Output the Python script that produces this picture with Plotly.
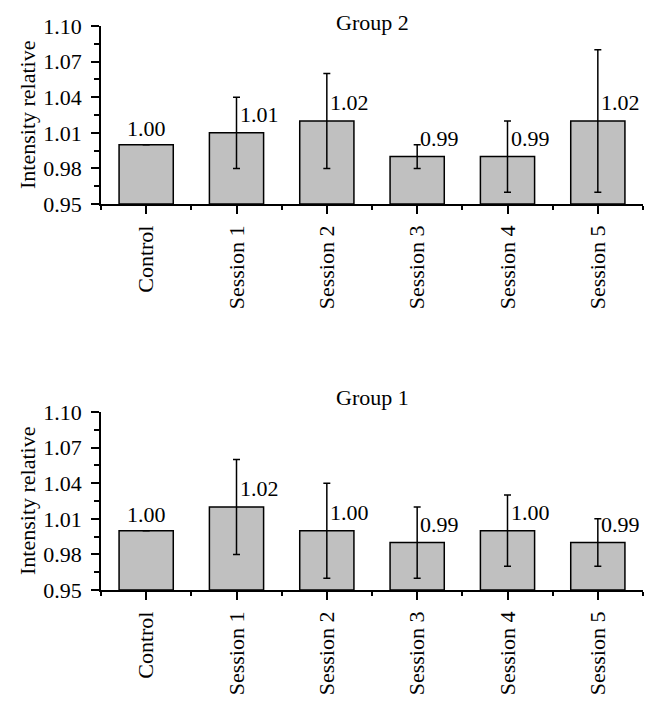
import plotly.graph_objects as go

categories = ["Control", "Session 1", "Session 2", "Session 3", "Session 4", "Session 5"]

group2_values = [1.00, 1.01, 1.02, 0.99, 0.99, 1.02]
group2_errors = [0.00, 0.03, 0.04, 0.01, 0.03, 0.06]

group1_values = [1.00, 1.02, 1.00, 0.99, 1.00, 0.99]
group1_errors = [0.00, 0.04, 0.04, 0.03, 0.03, 0.02]

y_ticks = [0.95, 0.98, 1.01, 1.04, 1.07, 1.10]

W, H = 658, 703
FONT = "Liberation Serif, Times New Roman, serif"
FS = 22

# pixel layout
x0, x1 = 101, 643
top_y = (26, 204)
bot_y = (412, 590)


def ydom(py):
    return [(H - py[1]) / H, (H - py[0]) / H]


fig = go.Figure()
xs = list(range(len(categories)))

panels = [
    ("Group 2", group2_values, group2_errors, "x", "y", top_y, 4),
    ("Group 1", group1_values, group1_errors, "x2", "y2", bot_y, 15),
]

for title, vals, errs, xa, ya, py, tshift in panels:
    fig.add_trace(go.Bar(
        x=xs, y=[v - 0.95 for v in vals], base=0.95,
        width=0.6,
        marker=dict(color="#c0c0c0", line=dict(color="black", width=1.5)),
        error_y=dict(type="data", array=errs, visible=True, color="black",
                     thickness=1.5, width=3.5),
        xaxis=xa, yaxis=ya, showlegend=False, hoverinfo="skip",
    ))
    for i, (v, e) in enumerate(zip(vals, errs)):
        if e == 0:
            fig.add_annotation(x=i, y=v, xref=xa, yref=ya, text=f"{v:.2f}",
                               showarrow=False, xanchor="center", yanchor="bottom",
                               yshift=2, font=dict(family=FONT, size=FS, color="black"))
        else:
            fig.add_annotation(x=i, y=v, xref=xa, yref=ya, text=f"{v:.2f}",
                               showarrow=False, xanchor="left", yanchor="bottom",
                               xshift=1, yshift=4, font=dict(family=FONT, size=FS, color="black"))
    d = ydom(py)
    fig.add_annotation(x=(x0 + x1) / 2 / W, y=d[1], xref="paper", yref="paper",
                       text=title, showarrow=False, xanchor="center", yanchor="middle",
                       yshift=tshift, font=dict(family=FONT, size=FS, color="black"))
    fig.add_annotation(x=27 / W, y=(d[0] + d[1]) / 2, xref="paper", yref="paper",
                       text="Intensity relative", showarrow=False, textangle=-90,
                       xanchor="center", yanchor="middle",
                       font=dict(family=FONT, size=FS, color="black"))

axis_common = dict(
    showgrid=False, zeroline=False, showline=True, linecolor="black", linewidth=1.5,
    ticks="outside", tickcolor="black", tickwidth=1.5, automargin=False,
    tickfont=dict(family=FONT, size=FS, color="black"),
)

xdom = [x0 / W, x1 / W]
for xa, ya, py in [("xaxis", "yaxis", top_y), ("xaxis2", "yaxis2", bot_y)]:
    anchor_y = "y" if ya == "yaxis" else "y2"
    anchor_x = "x" if xa == "xaxis" else "x2"
    fig.update_layout({
        xa: dict(axis_common, domain=xdom, anchor=anchor_y, range=[-0.5, 5.5],
                 tickvals=xs, ticktext=categories, tickangle=-90, ticklen=8,
                 ticklabelstandoff=3,
                 minor=dict(tickvals=[i - 0.5 for i in xs] + [len(xs) - 0.5],
                            ticklen=4, tickcolor="black", tickwidth=1.5, ticks="outside")),
        ya: dict(axis_common, domain=ydom(py), anchor=anchor_x, range=[0.95, 1.10],
                 tickvals=y_ticks, ticktext=[f"{t:.2f}" for t in y_ticks], ticklen=8,
                 ticklabelstandoff=5,
                 minor=dict(tickvals=[t + 0.015 for t in y_ticks[:-1]],
                            ticklen=5, tickcolor="black", tickwidth=1.5, ticks="outside")),
    })

fig.update_layout(
    width=W, height=H, margin=dict(l=0, r=0, t=0, b=0),
    plot_bgcolor="white", paper_bgcolor="white",
    font=dict(family=FONT, size=FS, color="black"),
    bargap=0.4,
)

fig.write_html("out.html", config={"displayModeBar": False},
               post_script="document.body.style.margin='0';")
